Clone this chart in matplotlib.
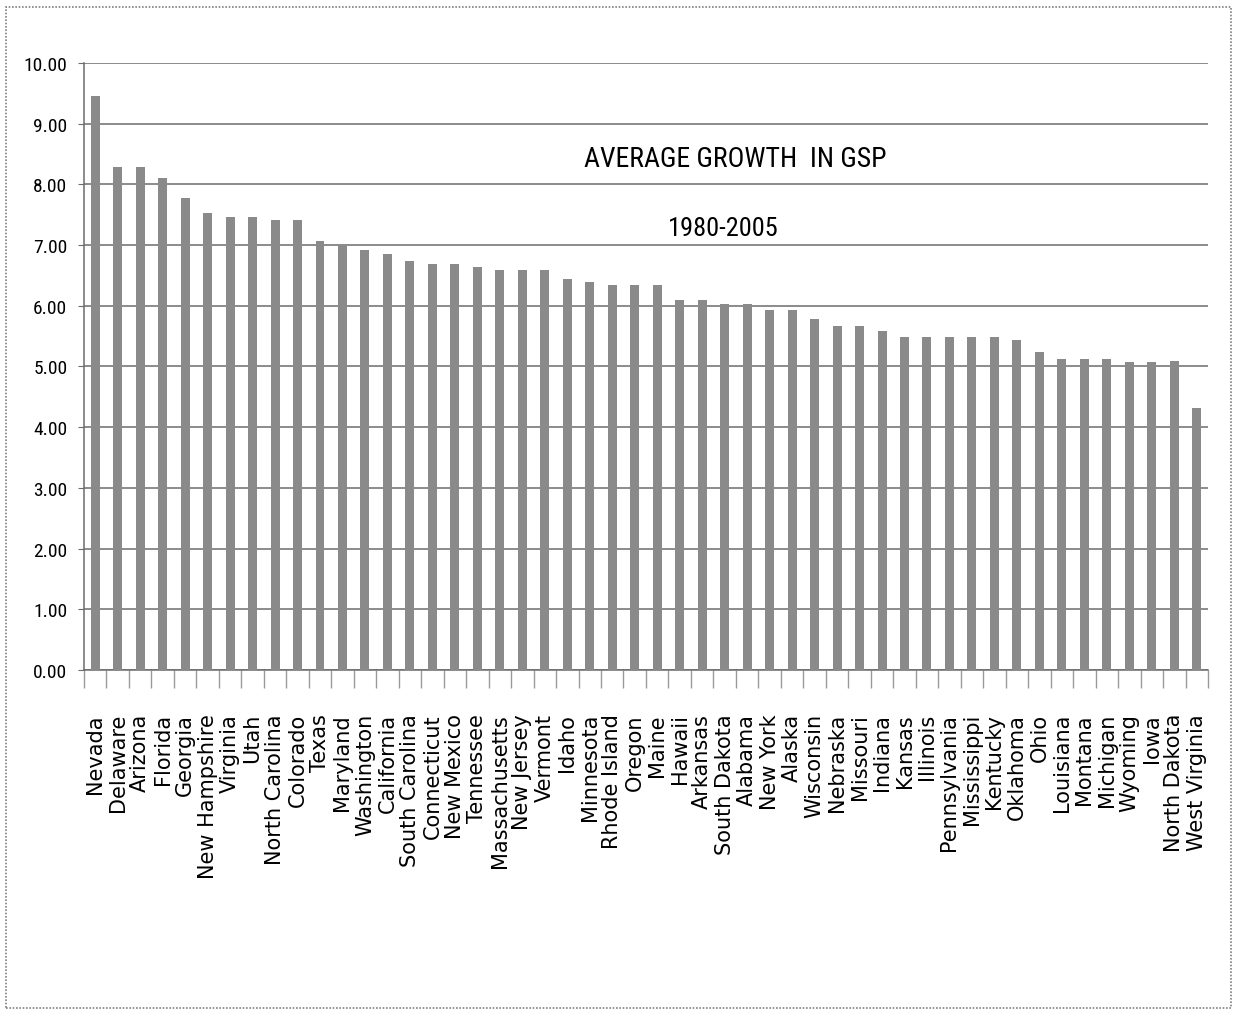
import os
import matplotlib
matplotlib.use('Agg')
import matplotlib.pyplot as plt
from matplotlib import font_manager
from matplotlib.font_manager import FontProperties
from matplotlib.patches import Rectangle
from matplotlib.ticker import FixedLocator, FormatStrFormatter
import numpy as np

states = ['Nevada', 'Delaware', 'Arizona', 'Florida', 'Georgia', 'New Hampshire',
          'Virginia', 'Utah', 'North Carolina', 'Colorado', 'Texas', 'Maryland',
          'Washington', 'California', 'South Carolina', 'Connecticut', 'New Mexico',
          'Tennessee', 'Massachusetts', 'New Jersey', 'Vermont', 'Idaho', 'Minnesota',
          'Rhode Island', 'Oregon', 'Maine', 'Hawaii', 'Arkansas', 'South Dakota',
          'Alabama', 'New York', 'Alaska', 'Wisconsin', 'Nebraska', 'Missouri',
          'Indiana', 'Kansas', 'Illinois', 'Pennsylvania', 'Mississippi', 'Kentucky',
          'Oklahoma', 'Ohio', 'Louisiana', 'Montana', 'Michigan', 'Wyoming', 'Iowa',
          'North Dakota', 'West Virginia']

growth = [9.46, 8.28, 8.28, 8.11, 7.77, 7.52,
          7.47, 7.47, 7.41, 7.41, 7.07, 7.00,
          6.92, 6.85, 6.74, 6.69, 6.69,
          6.64, 6.59, 6.59, 6.59, 6.44, 6.39,
          6.34, 6.34, 6.34, 6.10, 6.10, 6.03,
          6.03, 5.93, 5.93, 5.78, 5.67, 5.67,
          5.58, 5.49, 5.49, 5.49, 5.49, 5.49,
          5.44, 5.23, 5.12, 5.12, 5.12, 5.08, 5.08,
          5.09, 4.31]

y_ticks = [0, 1, 2, 3, 4, 5, 6, 7, 8, 9, 10]

title = 'AVERAGE GROWTH  IN GSP'
subtitle = '1980-2005'

# narrowest face that is installed, for the numbers and the title
installed = set(f.name for f in font_manager.fontManager.ttflist)
narrow = 'DejaVu Sans'
for name in ['Liberation Sans Narrow', 'Roboto Condensed', 'DejaVu Sans Condensed',
             'Roboto', 'Liberation Sans']:
    if name in installed:
        narrow = name
        break

# the bundled regular DejaVu file, so the state names never pick up a condensed cut
wide_file = os.path.join(matplotlib.get_data_path(), 'fonts', 'ttf', 'DejaVuSans.ttf')

grid_col = '#6c6c6c'

fig = plt.figure(figsize=(12.4, 10.12), dpi=100)
ax = fig.add_axes([0.0677, 0.337, 0.9065, 0.5998])

x = np.arange(len(states))
ax.bar(x, growth, width=0.4, color='#8a8a8a', zorder=3)

ax.set_xlim(-0.5, len(states) - 0.5)
ax.set_ylim(0, 10)
ax.set_yticks(y_ticks)
ax.yaxis.set_major_formatter(FormatStrFormatter('%.2f'))
ax.yaxis.grid(True, color=grid_col, linewidth=1.1)
ax.set_axisbelow(True)

for side in ['top', 'right']:
    ax.spines[side].set_visible(False)
for side in ['left', 'bottom']:
    ax.spines[side].set_color(grid_col)
    ax.spines[side].set_linewidth(1.1)

ax.tick_params(axis='y', length=4, color=grid_col, pad=8)

# labels on the bars, short dotted ticks on the category boundaries
ax.set_xticks(x)
ax.set_xticklabels(states, rotation=90, va='top', ha='center')
ax.tick_params(axis='x', which='major', length=0, pad=31)
ax.xaxis.set_minor_locator(FixedLocator(np.arange(len(states) + 1) - 0.5))
ax.tick_params(axis='x', which='minor', length=13, color='#9a9a9a', width=1)

for lab in ax.get_yticklabels():
    lab.set_fontproperties(FontProperties(family=narrow, size=14))
for lab in ax.get_xticklabels():
    lab.set_fontproperties(FontProperties(fname=wide_file, size=15))

fig.text(0.593, 0.842, title, ha='center', va='center',
         fontproperties=FontProperties(family=narrow, size=20))
fig.text(0.583, 0.774, subtitle, ha='center', va='center',
         fontproperties=FontProperties(family=narrow, size=19))

# dotted frame round the whole chart
fig.patches.append(Rectangle((6 / 1240, 1 - 1009 / 1012), 1225 / 1240, 1001 / 1012,
                             transform=fig.transFigure, fill=False,
                             edgecolor='#808080', linestyle=(0, (1, 1)),
                             linewidth=1.2))

plt.savefig('out.png', dpi=100)
